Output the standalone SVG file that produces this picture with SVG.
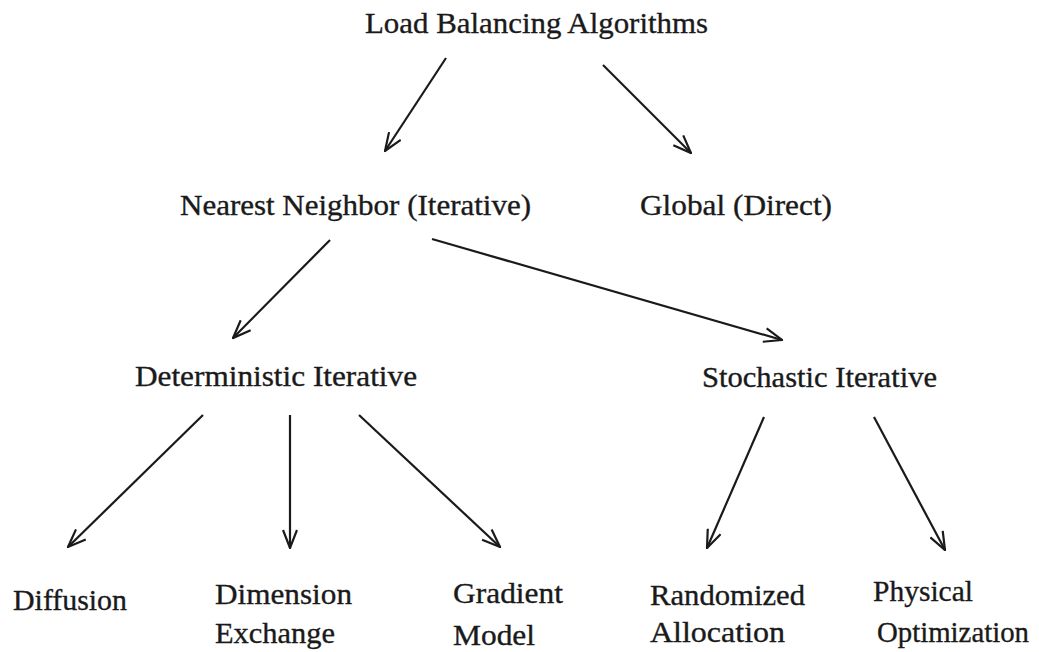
<svg xmlns="http://www.w3.org/2000/svg" width="1039" height="652" viewBox="0 0 1039 652">
<style>
text{font-family:"Liberation Serif","Times New Roman",serif;font-size:30px;fill:#1a1a1a;stroke:#1a1a1a;stroke-width:0.35}
.c line{stroke:#1a1a1a;stroke-width:2.2;fill:none;marker-end:url(#ah)}
</style>
<defs>
<marker id="ah" viewBox="0 0 20 16" refX="19" refY="8" markerWidth="20" markerHeight="16" markerUnits="userSpaceOnUse" orient="auto">
<path d="M1,1 L19,8 L1,15" fill="none" stroke="#1a1a1a" stroke-width="2.2"/>
</marker>
</defs>
<rect width="1039" height="652" fill="#fff"/>
<g id="n-root"><text x="365" y="33" textLength="343" lengthAdjust="spacingAndGlyphs">Load Balancing Algorithms</text></g>
<g id="n-nearest"><text x="180" y="215" textLength="351" lengthAdjust="spacingAndGlyphs">Nearest Neighbor (Iterative)</text></g>
<g id="n-global"><text x="640" y="215" textLength="192" lengthAdjust="spacingAndGlyphs">Global (Direct)</text></g>
<g id="n-det"><text x="135" y="386" textLength="282" lengthAdjust="spacingAndGlyphs">Deterministic Iterative</text></g>
<g id="n-sto"><text x="702" y="387" textLength="235" lengthAdjust="spacingAndGlyphs">Stochastic Iterative</text></g>
<g id="n-diff"><text x="13" y="610" textLength="114" lengthAdjust="spacingAndGlyphs">Diffusion</text></g>
<g id="n-dim"><text x="215" y="604" textLength="137" lengthAdjust="spacingAndGlyphs">Dimension</text><text x="215" y="643" textLength="120" lengthAdjust="spacingAndGlyphs">Exchange</text></g>
<g id="n-grad"><text x="453" y="603" textLength="110" lengthAdjust="spacingAndGlyphs">Gradient</text><text x="453" y="645" textLength="82" lengthAdjust="spacingAndGlyphs">Model</text></g>
<g id="n-rand"><text x="650" y="605" textLength="155" lengthAdjust="spacingAndGlyphs">Randomized</text><text x="650" y="642" textLength="135" lengthAdjust="spacingAndGlyphs">Allocation</text></g>
<g id="n-phys"><text x="873" y="601" textLength="100" lengthAdjust="spacingAndGlyphs">Physical</text><text x="877" y="642" textLength="152" lengthAdjust="spacingAndGlyphs">Optimization</text></g>
<g class="c" id="connectors">
<line x1="446" y1="58" x2="385" y2="151"/>
<line x1="603" y1="65" x2="691" y2="153"/>
<line x1="330" y1="240" x2="233" y2="338"/>
<line x1="432" y1="239" x2="782" y2="340"/>
<line x1="203" y1="415" x2="68" y2="547"/>
<line x1="290" y1="415" x2="290" y2="548"/>
<line x1="359" y1="415" x2="500" y2="547"/>
<line x1="764" y1="417" x2="707" y2="548"/>
<line x1="874" y1="417" x2="945" y2="550"/>
</g>
</svg>
